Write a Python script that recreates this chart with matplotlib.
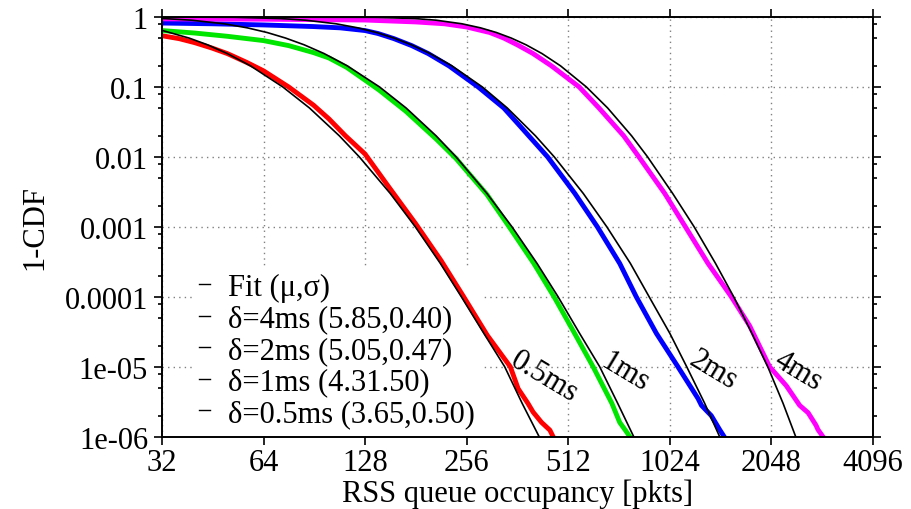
# RSS queue occupancy CCDF with log-normal fits
import matplotlib
matplotlib.use('Agg')
import matplotlib.pyplot as plt
from matplotlib.lines import Line2D
from matplotlib.ticker import FixedLocator, NullFormatter

plt.rcParams['font.family'] = ['Liberation Serif', 'DejaVu Serif']

red_x = [32, 36, 40, 45, 50, 57, 64, 76, 90, 100, 112, 128, 150, 181, 215, 250, 295, 345, 364, 389, 403, 427,
         452, 462]
red_y = [0.54, 0.49, 0.43, 0.36, 0.30, 0.225, 0.17, 0.10, 0.055, 0.035, 0.02, 0.011, 0.0038, 0.0011, 3.3e-4,
         1.03e-4, 2.8e-5, 1e-5, 4.85e-6, 3e-6, 2.25e-6, 1.6e-6, 1.24e-6, 1e-6]

green_x = [32, 40, 50, 64, 76, 90, 100, 113, 128, 141, 169, 208, 238, 294, 340, 405, 465, 535, 607, 690, 728,
           760, 780]
green_y = [0.64, 0.59, 0.53, 0.46, 0.39, 0.31, 0.26, 0.19, 0.125, 0.09, 0.045, 0.018, 0.0095, 0.0029, 1.05e-3,
           3e-4, 1e-4, 3e-5, 1e-5, 3e-6, 1.6e-6, 1.2e-6, 1e-6]

blue_x = [32, 45, 64, 90, 108, 128, 140, 156, 176, 197, 227, 277, 330, 363, 445, 536, 625, 728, 815, 935, 1083,
          1243, 1272, 1360, 1440, 1485]
blue_y = [0.82, 0.80, 0.77, 0.73, 0.70, 0.64, 0.58, 0.49, 0.39, 0.30, 0.20, 0.10, 0.05, 0.03, 0.01, 3e-3, 1e-3,
          3e-4, 1e-4, 3e-5, 1e-5, 3.5e-6, 2.8e-6, 2e-6, 1.26e-6, 1e-6]

mag_x = [32, 64, 128, 181, 220, 256, 300, 330, 362, 403, 457, 552, 632, 748, 830, 990, 1140, 1330, 1560, 1767,
         2025, 2270, 2487, 2634, 2779, 2818, 2915]
mag_y = [0.94, 0.93, 0.905, 0.85, 0.80, 0.72, 0.60, 0.50, 0.40, 0.30, 0.20, 0.10, 0.05, 0.02, 0.01, 3e-3, 1e-3,
         3e-4, 1e-4, 3.85e-5, 1e-5, 5.35e-6, 2.8e-6, 2.2e-6, 1.46e-6, 1.26e-6, 1e-6]

# Fitted curves
fit_red_x = [32, 38.5, 43.7, 50.0, 58.6, 73.0, 87.6, 107.4, 123.1, 152.0, 180.4, 214, 247, 288, 332, 374, 420]
fit_red_y = [0.644, 0.5, 0.4, 0.3, 0.2, 0.1, 0.05, 0.02, 0.01, 3e-3, 1e-3, 3e-4, 1e-4, 3e-5, 1e-5, 3e-6, 1e-6]

fit_green_x = [32, 39.2, 48.9, 57.3, 65.6, 74.4, 84.5, 96.8, 113.4, 141.3, 169.4, 207.9, 238.2, 294.1, 349.0,
               414.0, 478.0, 553.6, 635, 718, 801]
fit_green_y = [0.954, 0.9, 0.8, 0.7, 0.6, 0.5, 0.4, 0.3, 0.2, 0.1, 0.05, 0.02, 0.01, 3e-3, 1e-3, 3e-4, 1e-4,
               3e-5, 1e-5, 3e-6, 1e-6]

fit_blue_x = [32, 52.3, 72.0, 85.4, 105.0, 121.9, 138.5, 156.0, 175.8, 199.6, 231.7, 285.0, 338.0, 409.6,
              465.7, 567.7, 666.7, 783, 890, 1025, 1150, 1300, 1440]
fit_blue_y = [0.9996, 0.99, 0.95, 0.9, 0.8, 0.7, 0.6, 0.5, 0.4, 0.3, 0.2, 0.1, 0.05, 0.02, 0.01, 3e-3, 1e-3,
              3e-4, 1e-4, 3e-5, 1e-5, 3e-6, 1e-6]

fit_mag_x = [32, 136.9, 179.8, 208.0, 248.0, 281.5, 313.8, 347.2, 384.3, 428.3, 486.2, 579.8, 670.5, 789.6,
             880.5, 1045, 1210, 1400, 1585, 1795, 2000, 2220, 2420]
fit_mag_y = [0.99999, 0.99, 0.95, 0.9, 0.8, 0.7, 0.6, 0.5, 0.4, 0.3, 0.2, 0.1, 0.05, 0.02, 0.01, 3e-3, 1e-3,
             3e-4, 1e-4, 3e-5, 1e-5, 3e-6, 1e-6]

x_ticks = [32, 64, 128, 256, 512, 1024, 2048, 4096]
y_ticks = [1e-6, 1e-5, 1e-4, 1e-3, 1e-2, 1e-1, 1]
y_tick_labels = ['1e-06', '1e-05', '0.0001', '0.001', '0.01', '0.1', '1']

legend_labels = ['Fit (μ,σ)', 'δ=4ms (5.85,0.40)', 'δ=2ms (5.05,0.47)',
                 'δ=1ms (4.31.50)', 'δ=0.5ms (3.65,0.50)']

# curve name labels: text, x, y
curve_names = ['0.5ms', '1ms', '2ms', '4ms']
name_x = [434, 753, 1383, 2452]
name_y = [7.2e-6, 8.5e-6, 9.1e-6, 8.8e-6]

fs = 22

fig = plt.figure(figsize=(9.12, 5.10), dpi=100)
ax = fig.add_axes([0.1776, 0.1418, 0.957 - 0.1776, 0.9647 - 0.1418])
ax.set_xscale('log', base=2)
ax.set_yscale('log')

data_lw = 3.5
ax.plot(red_x, red_y, color='#ff0000', lw=data_lw, zorder=2)
ax.plot(green_x, green_y, color='#00e600', lw=data_lw, zorder=2)
ax.plot(blue_x, blue_y, color='#0000ff', lw=data_lw, zorder=2)
ax.plot(mag_x, mag_y, color='#ff00ff', lw=data_lw, zorder=2)

fit_lw = 1.2
for fx, fy in [(fit_red_x, fit_red_y), (fit_green_x, fit_green_y),
               (fit_blue_x, fit_blue_y), (fit_mag_x, fit_mag_y)]:
    ax.plot(fx, fy, color='black', lw=fit_lw, zorder=3)

ax.set_xlim(32, 4096)
ax.set_ylim(1e-6, 1)
ax.set_xticks(x_ticks)
ax.set_xticklabels([str(v) for v in x_ticks])
ax.xaxis.set_minor_locator(FixedLocator([]))
ax.set_yticks(y_ticks)
ax.set_yticklabels(y_tick_labels)
minor_y = [m * 10.0 ** e for e in range(-6, 0) for m in (2, 5, 8)]
ax.yaxis.set_minor_locator(FixedLocator(minor_y))
ax.yaxis.set_minor_formatter(NullFormatter())

ax.tick_params(which='both', direction='out', top=True, right=True, labelsize=fs, width=1.2)
ax.tick_params(which='major', length=6)
ax.tick_params(which='minor', length=3)
ax.tick_params(axis='y', pad=4)
ax.tick_params(axis='x', pad=2)
for s in ax.spines.values():
    s.set_linewidth(1.4)

ax.set_axisbelow(True)
ax.grid(True, which='major', color='#808080', linestyle=(0, (1, 3)), lw=1.0)

ax.set_xlabel('RSS queue occupancy [pkts]', fontsize=fs, labelpad=1)
ax.set_ylabel('1-CDF', fontsize=fs, labelpad=11)

handles = [Line2D([0], [0], color='black', lw=1.0) for _ in legend_labels]
leg = ax.legend(handles, legend_labels, loc='lower left', bbox_to_anchor=(0.035, -0.008),
                fontsize=fs, frameon=True, fancybox=False, framealpha=1.0,
                handlelength=0.35, handletextpad=0.6, labelspacing=0.08,
                borderpad=0.2, borderaxespad=0.2)
leg.get_frame().set_edgecolor('none')
leg.get_frame().set_facecolor('white')
leg.set_zorder(1)

for name, tx, ty in zip(curve_names, name_x, name_y):
    ax.text(tx, ty, name, fontsize=fs, rotation=-31, rotation_mode='anchor',
            ha='center', va='center', zorder=4)

fig.savefig('out.png', dpi=100)
